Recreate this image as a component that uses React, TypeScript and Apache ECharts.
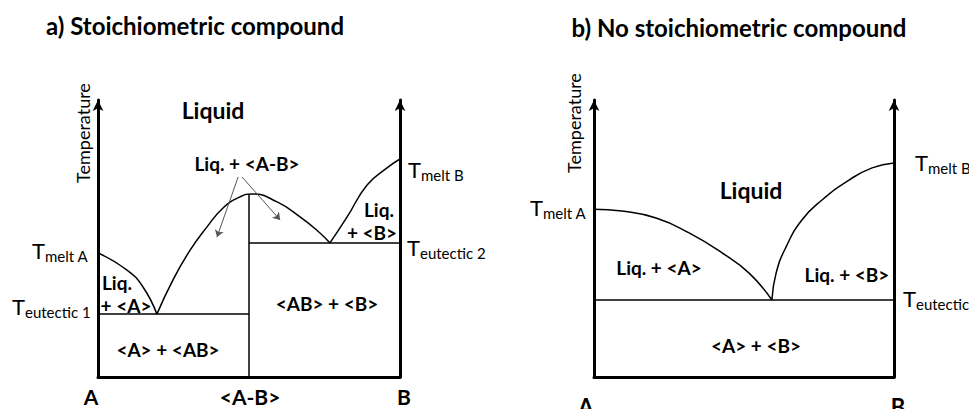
import React, { useEffect, useRef } from "react";
import * as echarts from "echarts";

// ---------- Data (composition 0..1, temperature 0..100) ----------
// Panel a) stoichiometric compound
const aLiquidusA = [[0, 44.8], [0.096, 38.6], [0.149, 32.5], [0.195, 22.7]];
const aLiquidusAB = [[0.195, 22.7], [0.248, 35.0], [0.305, 45.8], [0.361, 54.2], [0.414, 61.0], [0.47, 65.0], [0.51, 66.1], [0.593, 63.2], [0.669, 57.8], [0.735, 52.0], [0.768, 48.4]];
const aLiquidusB = [[0.768, 48.4], [0.825, 57.8], [0.891, 69.3], [0.957, 75.5], [1, 78.7]];
const aEutectic1 = [[0, 22.7], [0.5, 22.7]];
const aEutectic2 = [[0.5, 48.4], [1, 48.4]];
const aCompound = [[0.5, 0], [0.5, 66]];
const aArrowStart1 = [0.464, 72.2];
const aArrowEnd1 = [0.394, 50.5];
const aArrowStart2 = [0.477, 72.2];
const aArrowEnd2 = [0.603, 56.7];

// Panel b) no stoichiometric compound
const bLiquidusA = [[0, 60.6], [0.093, 59.9], [0.207, 57.4], [0.317, 52.0], [0.427, 44.8], [0.517, 37.5], [0.593, 27.8]];
const bLiquidusB = [[0.593, 27.8], [0.607, 37.5], [0.64, 46.9], [0.693, 56.7], [0.76, 63.9], [0.85, 71.1], [0.927, 75.5], [1, 77.3]];
const bEutectic = [[0, 27.8], [1, 27.8]];

// Texts
const titleA = "a) Stoichiometric compound";
const titleB = "b) No stoichiometric compound";
const axisName = "Temperature";

const FONT = "Lato, 'Open Sans', sans-serif";

function txt(text: string, x: number, y: number, size: number, bold: boolean, align: string = "center", rotation = 0, lineHeight?: number) {
  return {
    type: "text",
    x,
    y,
    rotation,
    silent: true,
    style: {
      text,
      fontSize: size,
      fontWeight: bold ? "bold" : "normal",
      fontFamily: FONT,
      fill: "#000",
      align,
      verticalAlign: "middle",
      ...(lineHeight ? { lineHeight } : {}),
    },
  };
}

// "T" with a subscript, as one rich text
function tsub(sub: string, x: number, y: number) {
  return {
    type: "text",
    x,
    y,
    silent: true,
    style: {
      text: "{t|T}{s|" + sub + "}",
      fontFamily: FONT,
      fill: "#000",
      align: "left",
      verticalAlign: "middle",
      rich: {
        t: { fontSize: 22, lineHeight: 26, verticalAlign: "middle", fontFamily: FONT, fill: "#000" },
        s: { fontSize: 15, lineHeight: 8, verticalAlign: "bottom", fontFamily: FONT, fill: "#000" },
      },
    },
  };
}

function curve(data: number[][], gi: number, smooth: boolean | number) {
  return {
    type: "line",
    xAxisIndex: gi,
    yAxisIndex: gi * 2,
    data,
    symbol: "none",
    smooth,
    silent: true,
    lineStyle: { color: "#000", width: 1.5 },
  };
}

function xAx(gi: number) {
  return {
    type: "value",
    gridIndex: gi,
    min: 0,
    max: 1,
    axisLine: { show: true, onZero: false, lineStyle: { color: "#000", width: 3 } },
    axisTick: { show: false },
    axisLabel: { show: false },
    splitLine: { show: false },
  };
}

function yAx(gi: number, position: string) {
  return {
    type: "value",
    gridIndex: gi,
    position,
    min: 0,
    max: 100,
    axisLine: {
      show: true,
      onZero: false,
      symbol: ["none", "arrow"],
      symbolSize: [8, 11],
      lineStyle: { color: "#000", width: 3 },
    },
    axisTick: { show: false },
    axisLabel: { show: false },
    splitLine: { show: false },
  };
}

export default function App() {
  const ref = useRef<HTMLDivElement>(null);
  useEffect(() => {
    if (!ref.current) return;
    const chart = echarts.init(ref.current, undefined, { renderer: "svg" });
    const arrowSeries = {
      ...curve(aCompound, 0, false),
      markLine: {
        silent: true,
        symbol: ["none", "arrow"],
        symbolSize: 7,
        label: { show: false },
        lineStyle: { color: "#555", width: 1, type: "solid" },
        data: [
          [{ coord: aArrowStart1 }, { coord: aArrowEnd1 }],
          [{ coord: aArrowStart2 }, { coord: aArrowEnd2 }],
        ],
      },
    };
    chart.setOption({
      animation: false,
      backgroundColor: "#fff",
      grid: [
        { left: 98, top: 100, width: 302, height: 277 },
        { left: 594, top: 100, width: 300, height: 277 },
      ],
      xAxis: [xAx(0), xAx(1)],
      yAxis: [yAx(0, "left"), yAx(0, "right"), yAx(1, "left"), yAx(1, "right")],
      series: [
        curve(aLiquidusA, 0, true),
        curve(aLiquidusAB, 0, true),
        curve(aLiquidusB, 0, true),
        curve(aEutectic1, 0, false),
        curve(aEutectic2, 0, false),
        arrowSeries,
        curve(bLiquidusA, 1, true),
        curve(bLiquidusB, 1, true),
        curve(bEutectic, 1, false),
      ],
      graphic: [
        // Panel a
        txt(titleA, 195, 25, 24, true),
        txt(axisName, 83, 133, 18, false, "center", Math.PI / 2),
        txt("Liquid", 213, 110, 23, true),
        txt("Liq. + <A-B>", 247, 163, 19, true),
        tsub("melt B", 408, 169),
        txt("Liq.", 379, 209, 19, true),
        txt("+ <B>", 372, 232, 19, true),
        tsub("eutectic 2", 407, 247),
        tsub("melt A", 32, 250),
        txt("Liq.", 117, 282, 19, true),
        txt("+ <A>", 126, 305, 19, true),
        tsub("eutectic 1", 12, 306),
        txt("<A> + <AB>", 168, 349, 19, true),
        txt("<AB> + <B>", 327, 303, 19, true),
        txt("A", 91, 396, 21, true),
        txt("<A-B>", 250, 396, 21, true),
        txt("B", 404, 396, 21, true),
        // Panel b
        txt(titleB, 739, 27, 24, true),
        txt(axisName, 574, 123, 18, false, "center", Math.PI / 2),
        txt("Liquid", 751, 190, 23, true),
        txt("Liq. + <A>", 659, 267, 19, true),
        txt("Liq. + <B>", 847, 274, 19, true),
        txt("<A> + <B>", 756, 345, 19, true),
        tsub("melt A", 530, 207),
        tsub("melt B", 915, 162),
        tsub("eutectic", 903, 298),
        txt("A", 586, 406, 22, true),
        txt("B", 898, 406, 22, true),
      ],
    });
    return () => chart.dispose();
  }, []);
  return (
    <div
      ref={ref}
      style={{ position: "fixed", left: 0, top: 0, width: 969, height: 409, background: "#fff" }}
    />
  );
}
